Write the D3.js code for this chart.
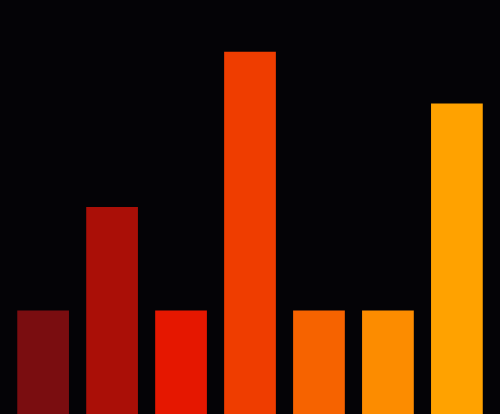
<!DOCTYPE html>
<html>
<head>
<meta charset="utf-8">
<script src="https://cdn.jsdelivr.net/npm/d3@7"></script>
<style>
  html, body { margin: 0; padding: 0; background: #040306; }
  svg { display: block; }
</style>
</head>
<body>
<svg id="chart" width="500" height="414"></svg>
<script>
// chart data
var categories = ['A', 'B', 'C', 'D', 'E', 'F', 'G'];
var values = [2, 4, 2, 7, 2, 2, 6];
var barColors = ['#7a0d10', '#aa0f07', '#e51700', '#ef3d00', '#f66300', '#fc8c00', '#ffa200'];

var width = 500, height = 414;

var svg = d3.select('#chart');

svg.append('rect')
  .attr('width', width)
  .attr('height', height)
  .attr('fill', '#040306');

var x = d3.scaleBand()
  .domain(categories)
  .range([0, width])
  .paddingInner(0.25)
  .paddingOuter(0.25);

var y = d3.scaleLinear()
  .domain([0, 8])
  .range([height, 0]);

var color = d3.scaleOrdinal()
  .domain(categories)
  .range(barColors);

svg.selectAll('.bar')
  .data(values)
  .enter().append('rect')
  .attr('class', 'bar')
  .attr('x', function(d, i) { return x(categories[i]); })
  .attr('y', function(d) { return y(d); })
  .attr('width', x.bandwidth())
  .attr('height', function(d) { return height - y(d); })
  .attr('fill', function(d, i) { return color(categories[i]); });
</script>
</body>
</html>
